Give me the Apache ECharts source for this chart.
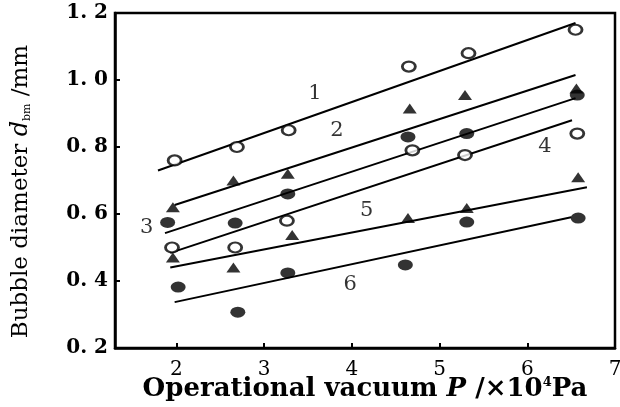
<!DOCTYPE html>
<html>
<head>
<meta charset="utf-8">
<script src="https://cdn.jsdelivr.net/npm/echarts@6/dist/echarts.min.js"></script>
<style>
    html, body { margin: 0; padding: 0; background: #fff; }
    #chart { width: 620px; height: 407px; }
</style>
</head>
<body>
<div id="chart"></div>
<script>
    // 测点数据 (P, d_bm)
    var xTicks = [2, 3, 4, 5, 6, 7];
    var s1 = [[1.98, 0.76], [2.69, 0.80], [3.28, 0.85], [4.65, 1.04], [5.33, 1.08], [6.55, 1.15]];
    var s2 = [[1.96, 0.62], [2.65, 0.70], [3.27, 0.72], [4.66, 0.915], [5.29, 0.955], [6.56, 0.975]];
    var s3 = [[1.90, 0.575], [2.67, 0.573], [3.27, 0.66], [4.64, 0.83], [5.31, 0.84], [6.57, 0.955]];
    var s4 = [[1.95, 0.50], [2.67, 0.50], [3.26, 0.58], [4.69, 0.79], [5.29, 0.776], [6.57, 0.84]];
    var s5 = [[1.96, 0.47], [2.65, 0.44], [3.32, 0.537], [4.64, 0.588], [5.31, 0.618], [6.58, 0.71]];
    var s6 = [[2.02, 0.382], [2.70, 0.307], [3.27, 0.424], [4.61, 0.448], [5.31, 0.576], [6.58, 0.588]];

    // 拟合直线 (起点, 终点)
    var fit1 = [[1.79, 0.73], [6.55, 1.17]];
    var fit2 = [[1.98, 0.627], [6.55, 1.015]];
    var fit3 = [[1.87, 0.543], [6.55, 0.946]];
    var fit4 = [[1.93, 0.484], [6.51, 0.88]];
    var fit5 = [[1.93, 0.44], [6.68, 0.68]];
    var fit6 = [[1.98, 0.337], [6.50, 0.59]];

    // 曲线编号
    var tags = [[3.58, 0.96, '1'], [3.83, 0.85, '2'], [1.66, 0.56, '3'], [6.20, 0.80, '4'], [4.17, 0.61, '5'], [3.98, 0.39, '6']];

    var serif = '"DejaVu Serif", "Liberation Serif", serif';

    function pts(name, data, symbol, hollow) {
        var size = symbol === 'triangle' ? [14, 10] : (hollow ? [13, 10] : [15, 11]);
        return {
            name: name, type: 'scatter', data: data, symbol: symbol,
            symbolSize: size,
            itemStyle: hollow ? { color: '#fff', borderColor: '#000', borderWidth: 2.5 } : { color: '#000' },
            z: 3
        };
    }
    function fit(data) {
        return {
            type: 'line', data: data, symbol: 'none',
            lineStyle: { color: '#000', width: 2 }, z: 2
        };
    }

    var chart = echarts.init(document.getElementById('chart'));
    chart.setOption({
        animation: false,
        grid: {
            left: 115, right: 5, top: 13, bottom: 59,
            outerBoundsMode: 'none', containLabel: false,
            show: true, borderColor: '#000', borderWidth: 2.5
        },
        xAxis: {
            type: 'value', min: 1.3, max: 7,
            splitLine: { show: false },
            axisLine: { lineStyle: { color: '#000', width: 2.5 } },
            axisTick: { inside: true, length: 5, customValues: xTicks, lineStyle: { color: '#000', width: 2 } },
            axisLabel: { customValues: xTicks, color: '#000', fontFamily: serif, fontSize: 20, margin: 12 },
            name: 'Operational vacuum {i|P} /×10{s|4}Pa',
            nameLocation: 'middle', nameGap: 28, nameMoveOverlap: false,
            nameTextStyle: {
                color: '#000', fontFamily: serif, fontWeight: 'bold', fontSize: 26,
                rich: {
                    i: { fontStyle: 'italic', fontFamily: serif, fontWeight: 'bold', fontSize: 26 },
                    s: { fontFamily: serif, fontWeight: 'bold', fontSize: 13, verticalAlign: 'top', padding: [0, 0, 9, 0] }
                }
            }
        },
        yAxis: {
            type: 'value', min: 0.2, max: 1.2, interval: 0.2,
            splitLine: { show: false },
            axisLine: { lineStyle: { color: '#000', width: 2.5 } },
            axisTick: { inside: true, length: 5, lineStyle: { color: '#000', width: 2 } },
            axisLabel: {
                color: '#000', fontFamily: serif, fontWeight: 'bold', fontSize: 20, margin: 7,
                formatter: function (v) { return v.toFixed(1).replace('.', '. '); }
            },
            name: 'Bubble diameter {i|d}{b|bm} /mm',
            nameLocation: 'middle', nameGap: 82, nameRotate: 90, nameMoveOverlap: false,
            nameTextStyle: {
                color: '#000', fontFamily: serif, fontSize: 23, padding: [0, 22, 0, 0],
                rich: {
                    i: { fontStyle: 'italic', fontFamily: serif, fontSize: 24 },
                    b: { fontFamily: serif, fontSize: 11, verticalAlign: 'bottom' }
                }
            }
        },
        series: [
            fit(fit1), fit(fit2), fit(fit3), fit(fit4), fit(fit5), fit(fit6),
            pts('1', s1, 'circle', true),
            pts('2', s2, 'triangle', false),
            pts('3', s3, 'circle', false),
            pts('4', s4, 'circle', true),
            pts('5', s5, 'triangle', false),
            pts('6', s6, 'circle', false),
            {
                type: 'scatter', symbolSize: 0, z: 4,
                data: tags.map(function (t) { return { value: [t[0], t[1]], label: { formatter: t[2] } }; }),
                label: { show: true, position: 'inside', color: '#000', fontFamily: serif, fontSize: 21 }
            }
        ]
    });
</script>
</body>
</html>
